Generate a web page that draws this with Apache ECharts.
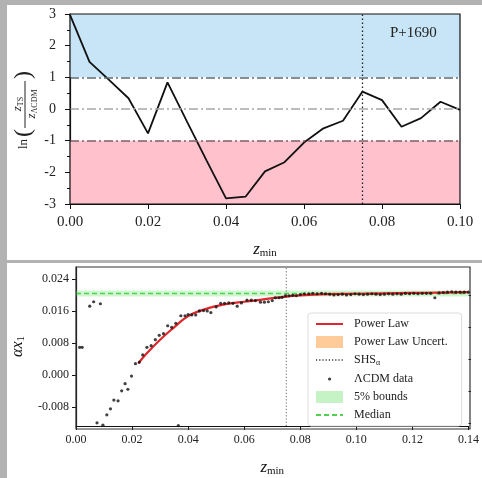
<!DOCTYPE html>
<html><head><meta charset="utf-8">
<script src="https://cdn.jsdelivr.net/npm/echarts@6/dist/echarts.min.js"></script>
<style>html,body{margin:0;padding:0;background:#b2b2b2}#c{width:482px;height:478px}</style>
</head><body><div id="c"></div><script>
// ---------- top panel data ----------
const topX = [0,0.005,0.01,0.015,0.02,0.025,0.03,0.035,0.04,0.045,0.05,0.055,0.06,0.065,0.07,0.075,0.08,0.085,0.09,0.095,0.1];
const topY = [2.97,1.49,0.92,0.34,-0.77,0.84,-0.40,-1.62,-2.82,-2.77,-1.97,-1.68,-1.06,-0.61,-0.37,0.55,0.28,-0.56,-0.29,0.23,-0.03];
const topYTicks = [-3,3,1];           // min, max, step
const topXTicks = [0,0.1,0.02];
const upperBand = [1,3];
const lowerBand = [-3,-1];
const refLevels = [1,0,-1];
const shsMarker = 0.075;
const panelTag = 'P+1690';

// ---------- bottom panel data ----------
const lcdmX = [0.0013,0.0022,0.0049,0.0063,0.0075,0.0087,0.0096,0.0110,0.0123,0.0135,0.0150,0.0163,0.0175,0.0185,0.0198,0.0212,0.0226,0.0238,0.0253,0.0268,0.0283,0.0297,0.0312,0.0327,0.0341,0.0356,0.0365,0.0374,0.0389,0.0400,0.0413,0.0427,0.0440,0.0455,0.0468,0.0481,0.0500,0.0516,0.0530,0.0545,0.0560,0.0575,0.0590,0.0610,0.0625,0.0640,0.0658,0.0672,0.0686,0.0700,0.0711,0.0724,0.0735,0.0747,0.0760,0.0773,0.0786,0.0800,0.0815,0.0830,0.0845,0.0860,0.0876,0.0890,0.0905,0.0920,0.0935,0.0950,0.0965,0.0980,0.0995,0.1010,0.1025,0.1040,0.1055,0.1070,0.1085,0.1100,0.1115,0.1130,0.1145,0.1160,0.1175,0.1190,0.1205,0.1220,0.1235,0.1250,0.1265,0.1280,0.1295,0.1310,0.1325,0.1340,0.1355,0.1370,0.1385,0.1400];
const lcdmY = [0.0069,0.0069,0.0172,0.0183,-0.0120,0.0178,-0.0126,-0.0100,-0.0085,-0.0063,-0.0065,-0.0040,-0.0022,-0.0036,-0.0003,0.0028,0.0032,0.0050,0.0069,0.0073,0.0088,0.0099,0.0103,0.0123,0.0119,0.0129,-0.0127,0.0148,0.0148,0.0151,0.0150,0.0150,0.0160,0.0161,0.0160,0.0156,0.0170,0.0179,0.0179,0.0180,0.0179,0.0172,0.0180,0.0187,0.0187,0.0186,0.0182,0.0182,0.0183,0.0186,0.0193,0.0193,0.0194,0.0198,0.0198,0.0199,0.0198,0.0201,0.0203,0.0203,0.0204,0.0203,0.0204,0.0203,0.0202,0.0200,0.0201,0.0202,0.0200,0.0201,0.0203,0.0202,0.0201,0.0202,0.0203,0.0202,0.0201,0.0202,0.0203,0.0202,0.0203,0.0202,0.0204,0.0203,0.0204,0.0203,0.0204,0.0204,0.0204,0.0193,0.0205,0.0206,0.0207,0.0208,0.0207,0.0207,0.0207,0.0207];
const plX = [0.0222,0.025,0.03,0.035,0.04,0.045,0.05,0.055,0.06,0.065,0.07,0.075,0.08,0.09,0.10,0.11,0.12,0.13,0.14];
const plY = [0.0028,0.0052,0.0088,0.0119,0.0147,0.0162,0.0172,0.0179,0.0183,0.0187,0.0192,0.0196,0.0199,0.0202,0.0203,0.0204,0.0205,0.0206,0.0207];
const medianVal = [0.02035];
const boundsVal = [0.0196,0.0211];
const botXTicks = [0,0.14,0.02];
const botYRange = [-0.0128,0.027];
const botYMajor = [-0.008,0,0.008,0.016,0.024];
const botYMinor = [-0.012,-0.004,0.004,0.012,0.020];
const legendNames = ['Power Law','Power Law Uncert.','SHSα','ΛCDM data','5% bounds','Median'];

const SERIF = 'Liberation Serif';
const G1 = {left:70, top:14, width:390, height:190};
const G2 = {left:76, top:267, width:394, height:162};

const chart = echarts.init(document.getElementById('c'), null, {renderer:'canvas'});
const fmt2 = v => v.toFixed(2);
const rich = {
  z:{fontFamily:SERIF, fontStyle:'italic', fontSize:17, color:'#111'},
  s:{fontFamily:SERIF, fontSize:11, color:'#111', verticalAlign:'bottom', padding:[8,0,0,0]},
  a:{fontFamily:SERIF, fontStyle:'italic', fontSize:16, color:'#111'}
};
const hideSym = {opacity:0};

const option = {
  animation:false,
  backgroundColor:'transparent',
  grid:[Object.assign({}, G1), Object.assign({}, G2)],
  xAxis:[
    {gridIndex:0, type:'value', min:topXTicks[0], max:topXTicks[1], interval:topXTicks[2],
     axisLine:{onZero:false, lineStyle:{color:'#111', width:1.2}}, axisTick:{length:5, lineStyle:{color:'#111'}},
     splitLine:{show:false},
     axisLabel:{formatter:fmt2, fontFamily:SERIF, fontSize:15, color:'#222', margin:11},
     name:'{z|z}{s|min}', nameLocation:'middle', nameGap:36, nameTextStyle:{rich:rich}},
    {gridIndex:1, type:'value', min:botXTicks[0], max:botXTicks[1], interval:botXTicks[2],
     axisLine:{onZero:false, lineStyle:{color:'#111', width:1.2}}, axisTick:{length:4, lineStyle:{color:'#111'}},
     splitLine:{show:false},
     axisLabel:{formatter:fmt2, fontFamily:SERIF, fontSize:12, color:'#222', margin:8},
     name:'{z|z}{s|min}', nameLocation:'middle', nameGap:32, nameTextStyle:{rich:rich}}
  ],
  yAxis:[
    {gridIndex:0, type:'value', min:topYTicks[0], max:topYTicks[1], interval:topYTicks[2],
     axisLine:{show:true, onZero:false, lineStyle:{color:'#111', width:1.2}}, axisTick:{show:true, length:5, lineStyle:{color:'#111'}},
     minorTick:{show:true, splitNumber:2, length:3, lineStyle:{color:'#111'}},
     splitLine:{show:false},
     axisLabel:{fontFamily:SERIF, fontSize:14, color:'#222', margin:14}},
    {gridIndex:1, type:'value', min:botYRange[0], max:botYRange[1],
     axisLine:{show:true, onZero:false, lineStyle:{color:'#111', width:1.2}},
     axisTick:{show:true, length:4, customValues:botYMajor, lineStyle:{color:'#111'}},
     splitLine:{show:false},
     axisLabel:{customValues:botYMajor, formatter:v=>v.toFixed(3), fontFamily:SERIF, fontSize:12, color:'#222', margin:7},
     name:'{a|αx}{s|1}', nameLocation:'middle', nameRotate:90, nameGap:44, nameTextStyle:{rich:rich}},
    {gridIndex:1, type:'value', min:botYRange[0], max:botYRange[1],
     axisLine:{show:false, onZero:false},
     axisTick:{show:true, length:2.5, customValues:botYMinor, lineStyle:{color:'#111'}},
     splitLine:{show:false}, axisLabel:{show:false}}
  ],
  legend:{
    left:308, top:313, orient:'vertical', padding:[5,14,5,7], itemGap:6,
    itemWidth:27, itemHeight:12,
    backgroundColor:'#fff', borderColor:'#dcdcdc', borderWidth:1, borderRadius:3,
    textStyle:{fontFamily:SERIF, fontSize:12, color:'#222', padding:[0,0,0,6],
               rich:{s:{fontFamily:SERIF, fontSize:8, color:'#222', verticalAlign:'bottom', padding:[6,0,0,0]}, n:{fontFamily:SERIF, fontSize:12, color:'#222'}}},
    formatter: n => n === 'SHSα' ? '{n|SHS}{s|α}' : n,
    data:[
      {name:legendNames[0], itemStyle:hideSym},
      {name:legendNames[1], icon:'rect'},
      {name:legendNames[2], itemStyle:hideSym},
      {name:legendNames[3], icon:'path://M0,0 M27,12 M12,6 a1.6,1.6 0 1,0 3.2,0 a1.6,1.6 0 1,0 -3.2,0'},
      {name:legendNames[4], icon:'rect'},
      {name:legendNames[5], itemStyle:hideSym}
    ]
  },
  graphic:[
    {type:'rect', z:-10, silent:true, shape:{x:0,y:0,width:482,height:478}, style:{fill:'#b2b2b2'}},
    {type:'rect', z:-9, silent:true, shape:{x:7,y:5,width:475,height:255}, style:{fill:'#ffffff'}},
    {type:'rect', z:-9, silent:true, shape:{x:7,y:263,width:475,height:215}, style:{fill:'#ffffff'}},
    {type:'rect', z:50, silent:true, shape:{x:G1.left,y:G1.top,width:G1.width,height:G1.height}, style:{fill:'transparent', stroke:'#111', lineWidth:1.2}},
    {type:'rect', z:50, silent:true, shape:{x:G2.left,y:G2.top,width:G2.width,height:G2.height}, style:{fill:'transparent', stroke:'#333', lineWidth:1.2}},
    {type:'text', z:50, left:390, top:26, style:{text:panelTag, font:'15px "Liberation Serif"', fill:'#222'}},
    {type:'group', x:24, y:108, rotation:Math.PI/2, z:50, children:[
      {type:'text', x:-41, y:0, style:{text:'ln', font:'13px "Liberation Serif"', fill:'#222', align:'left', verticalAlign:'middle'}},
      {type:'text', x:-29, y:0, style:{text:'(', font:'24px "Liberation Serif"', fill:'#222', align:'left', verticalAlign:'middle'}},
      {type:'text', x:4, y:-6, style:{text:'{z|z}{s|TS}', fill:'#222', align:'center', verticalAlign:'middle',
        rich:{z:{font:'italic 13px "Liberation Serif"', fill:'#222'}, s:{font:'8px "Liberation Serif"', fill:'#222', verticalAlign:'bottom', padding:[6,0,0,0]}}}},
      {type:'line', shape:{x1:-20,y1:1,x2:27,y2:1}, style:{stroke:'#222', lineWidth:1}},
      {type:'text', x:4, y:8, style:{text:'{z|z}{s|ΛCDM}', fill:'#222', align:'center', verticalAlign:'middle',
        rich:{z:{font:'italic 13px "Liberation Serif"', fill:'#222'}, s:{font:'8px "Liberation Serif"', fill:'#222', verticalAlign:'bottom', padding:[6,0,0,0]}}}},
      {type:'text', x:29, y:0, style:{text:')', font:'24px "Liberation Serif"', fill:'#222', align:'left', verticalAlign:'middle'}}
    ]}
  ],
  series:[
    // top panel bands & reference lines
    {type:'line', xAxisIndex:0, yAxisIndex:0, data:[], z:1, silent:true,
     markArea:{silent:true, data:[
       [{yAxis:upperBand[0], itemStyle:{color:'#c7e5f6'}},{yAxis:upperBand[1]}],
       [{yAxis:lowerBand[0], itemStyle:{color:'#ffc1cb'}},{yAxis:lowerBand[1]}]
     ]},
     markLine:{silent:true, symbol:'none', label:{show:false}, data:[
       {yAxis:refLevels[0], lineStyle:{color:'#5d6b72', type:[9,3,2,3], width:1.5}},
       {yAxis:refLevels[1], lineStyle:{color:'#a8a8a8', type:[9,3,2,3], width:1.5}},
       {yAxis:refLevels[2], lineStyle:{color:'#7c6266', type:[9,3,2,3], width:1.5}}
     ]}},
    {type:'line', xAxisIndex:0, yAxisIndex:0, z:2, silent:true, symbol:'none',
     lineStyle:{color:'#222', type:[1.5,2.5], width:1.3},
     data:[[shsMarker, topYTicks[0]],[shsMarker, topYTicks[1]]]},
    {type:'line', xAxisIndex:0, yAxisIndex:0, z:3, silent:true, symbol:'none',
     lineStyle:{color:'#111', width:1.8}, data: topX.map((x,i)=>[x, topY[i]])},
    // bottom panel
    {name:'5% bounds', type:'line', xAxisIndex:1, yAxisIndex:1, data:[], z:1, silent:true,
     itemStyle:{color:'#c6f3c6'}, lineStyle:{color:'#c6f3c6'},
     markArea:{silent:true, itemStyle:{color:'rgba(150,235,150,0.45)'}, data:[[{yAxis:boundsVal[0]},{yAxis:boundsVal[1]}]]}},
    {name:'Median', type:'line', xAxisIndex:1, yAxisIndex:1, z:2, silent:true, symbol:'none',
     itemStyle:{color:'#4fd24f'}, lineStyle:{color:'#4fd24f', type:[5,3], width:1.5},
     data:[[botXTicks[0], medianVal[0]],[botXTicks[1], medianVal[0]]]},
    {name:'SHSα', type:'line', xAxisIndex:1, yAxisIndex:1, z:2, silent:true, symbol:'none',
     itemStyle:{color:'#666'}, lineStyle:{color:'#666', type:[1.2,2], width:1},
     data:[[shsMarker, botYRange[0]],[shsMarker, botYRange[1]]]},
    {name:'Power Law Uncert.', type:'line', xAxisIndex:1, yAxisIndex:1, data:[], silent:true,
     itemStyle:{color:'#ffcc99'}, lineStyle:{color:'#ffcc99'}},
    {name:'Power Law', type:'line', xAxisIndex:1, yAxisIndex:1, z:3, silent:true, symbol:'none', smooth:true,
     itemStyle:{color:'#e0262a'}, lineStyle:{color:'#e0262a', width:2.2},
     data: plX.map((x,i)=>[x, plY[i]])},
    {name:'ΛCDM data', type:'scatter', xAxisIndex:1, yAxisIndex:1, z:4, silent:true,
     symbolSize:3.2, itemStyle:{color:'#111'},
     data: lcdmX.map((x,i)=>[x, lcdmY[i]])}
  ]
};
chart.setOption(option);
</script></body></html>
